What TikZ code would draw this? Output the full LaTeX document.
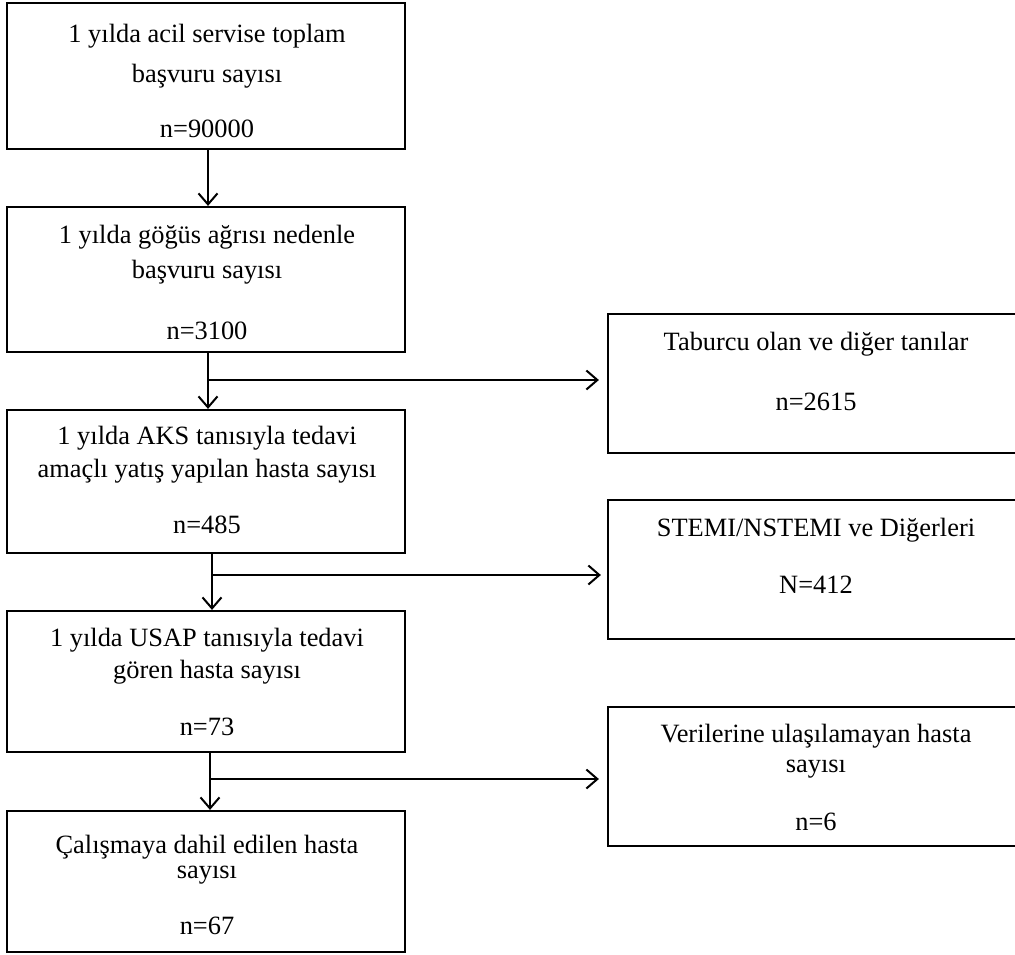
\documentclass[tikz,border=0pt]{standalone}
\usepackage{fontspec}
\setmainfont{Liberation Serif}
\usetikzlibrary{arrows.meta}

\begin{document}
\begin{tikzpicture}[x=0.5pt,y=-0.5pt,
  box/.style={draw,line width=1.1pt,inner sep=0pt,minimum width=199pt},
  side/.style={draw,line width=1.1pt,inner sep=0pt,minimum width=208pt,minimum height=69.5pt},
  txt/.style={anchor=base,inner sep=0pt,font=\fontsize{13.2}{15}\selectfont},
  arr/.style={line width=1pt,-{Straight Barb[length=5.5pt,width=9.5pt]}}]
\useasboundingbox (0,0) rectangle (1015,954);
% boxes of the main flow
\node[box,minimum height=73pt] (b1) at (206,76) {};
\node[box,minimum height=72.5pt] (b2) at (206,279.5) {};
\node[box,minimum height=71.5pt] (b3) at (206,481.5) {};
\node[box,minimum height=70.5pt] (b4) at (206,681.5) {};
\node[box,minimum height=70.5pt] (b5) at (206,881.5) {};
% boxes on the right
\node[side] (r1) at (816,383.5) {};
\node[side] (r2) at (816,569.5) {};
\node[side] (r3) at (816,776.5) {};
% texts
\node[txt] (b1a) at (207,42) {1 yılda acil servise toplam};
\node[txt] (b1b) at (207,82) {başvuru sayısı};
\node[txt] (b1n) at (207,137) {n=90000};
\node[txt] (b2a) at (207,243) {1 yılda göğüs ağrısı nedenle};
\node[txt] (b2b) at (207,278) {başvuru sayısı};
\node[txt] (b2n) at (207,339) {n=3100};
\node[txt] (b3a) at (207,444) {1 yılda AKS tanısıyla tedavi};
\node[txt] (b3b) at (207,477) {amaçlı yatış yapılan hasta sayısı};
\node[txt] (b3n) at (207,533) {n=485};
\node[txt] (b4a) at (207,646) {1 yılda USAP tanısıyla tedavi};
\node[txt] (b4b) at (207,678) {gören hasta sayısı};
\node[txt] (b4n) at (207,735) {n=73};
\node[txt] (b5a) at (207,853) {Çalışmaya dahil edilen hasta};
\node[txt] (b5b) at (207,878) {sayısı};
\node[txt] (b5n) at (207,934) {n=67};
\node[txt] (r1a) at (816,350) {Taburcu olan ve diğer tanılar};
\node[txt] (r1n) at (816,410) {n=2615};
\node[txt] (r2a) at (816,536) {STEMI/NSTEMI ve Diğerleri};
\node[txt] (r2n) at (816,593) {N=412};
\node[txt] (r3a) at (816,742) {Verilerine ulaşılamayan hasta};
\node[txt] (r3b) at (816,772) {sayısı};
\node[txt] (r3n) at (816,830) {n=6};
% arrows
\draw[arr] ([xshift=1pt]b1.south) -- ([xshift=1pt]b2.north);
\draw[arr] ([xshift=1pt]b2.south) -- ([xshift=1pt]b3.north);
\draw[arr] ([xshift=3pt]b3.south) -- ([xshift=3pt]b4.north);
\draw[arr] ([xshift=2pt]b4.south) -- ([xshift=2pt]b5.north);
\coordinate (s1) at (208,380);
\coordinate (s2) at (212,575);
\coordinate (s3) at (210,779);
\draw[arr,shorten >=4pt] (s1) -- (s1 -| r1.west);
\draw[arr,shorten >=3pt] (s2) -- (s2 -| r2.west);
\draw[arr,shorten >=4pt] (s3) -- (s3 -| r3.west);
\end{tikzpicture}
\end{document}
